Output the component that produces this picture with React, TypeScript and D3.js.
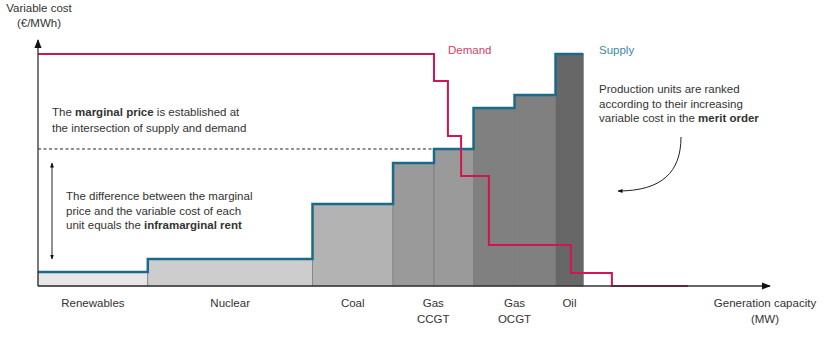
import React from "react";
import * as d3 from "d3";

// ---- Data ----
const categories = ["Renewables", "Nuclear", "Coal", "Gas CCGT", "Gas CCGT", "Gas OCGT", "Gas OCGT", "Oil"];
const capacities = [15, 22.5, 11, 5.6, 5.4, 5.6, 5.6, 3.8]; // MW units (relative)
const costs = [5.7, 11, 33.3, 50, 55.7, 72.4, 77.6, 94.3]; // €/MWh (relative)
const categoryFill = ["#e6e6e6", "#cdcdcd", "#b3b3b3", "#9a9a9a", "#9a9a9a", "#808080", "#808080", "#676767"];

const demandBreaksX = [0, 54.1, 56, 57.8, 61.6, 72.8, 78.4, 88.8];
const demandLevels = [94.3, 83.3, 61, 44.7, 16.7, 5.3, 0];
const marginalPrice = 55.7;

const catLabels = [
  { lines: ["Renewables"], from: 0, to: 1 },
  { lines: ["Nuclear"], from: 1, to: 2 },
  { lines: ["Coal"], from: 2, to: 3 },
  { lines: ["Gas", "CCGT"], from: 3, to: 5 },
  { lines: ["Gas", "OCGT"], from: 5, to: 7 },
  { lines: ["Oil"], from: 7, to: 8 },
];

const W = 830;
const H = 347;
const X0 = 38;
const XEND = 770;
const Y0 = 286;
const YTOP = 40;

const SUPPLY = "#1b6a8a";
const DEMAND = "#d11550";
const TXT = "#333";
const FONT = "'Liberation Sans', Arial, sans-serif";

export default function App() {
  const x = d3.scaleLinear().domain([0, 100]).range([X0, XEND]);
  const y = d3.scaleLinear().domain([0, 100]).range([Y0, YTOP]);

  const cum: number[] = [0];
  capacities.forEach((c, i) => cum.push(cum[i] + c));

  // supply step line
  const supplyPts: [number, number][] = [];
  costs.forEach((c, i) => {
    supplyPts.push([cum[i], c]);
    supplyPts.push([cum[i + 1], c]);
  });
  const line = d3.line<[number, number]>().x((d) => x(d[0])).y((d) => y(d[1]));

  const demandPts: [number, number][] = [];
  demandLevels.forEach((lv, i) => {
    demandPts.push([demandBreaksX[i], lv]);
    demandPts.push([demandBreaksX[i + 1], lv]);
  });

  const fs = 11.5;

  return (
    <svg width={W} height={H} style={{ position: "absolute", left: 0, top: 0, background: "#fff" }} fontFamily={FONT}>
      <defs>
        <marker id="ah" viewBox="0 0 10 10" refX="9" refY="5" markerWidth="7" markerHeight="7" orient="auto-start-reverse">
          <path d="M0,1 L10,5 L0,9 z" fill="#111" />
        </marker>
        <marker id="ahs" viewBox="0 0 10 10" refX="9" refY="5" markerWidth="5" markerHeight="6" orient="auto-start-reverse">
          <path d="M0,1 L10,5 L0,9 z" fill="#111" />
        </marker>
      </defs>

      {/* bars */}
      {capacities.map((c, i) => (
        <rect
          key={i}
          x={x(cum[i])}
          y={y(costs[i])}
          width={x(cum[i + 1]) - x(cum[i])}
          height={Y0 - y(costs[i])}
          fill={categoryFill[i]}
          stroke="#7a7a7a"
          strokeWidth={0.7}
        />
      ))}

      {/* dashed marginal price */}
      <line x1={X0} x2={x(cum[4])} y1={y(marginalPrice)} y2={y(marginalPrice)} stroke="#222" strokeDasharray="3,2.5" strokeWidth={1} />

      {/* supply */}
      <path d={line(supplyPts) || ""} fill="none" stroke={SUPPLY} strokeWidth={2.5} />
      {/* demand */}
      <path d={line(demandPts) || ""} fill="none" stroke={DEMAND} strokeWidth={2} />

      {/* axes */}
      <line x1={X0} x2={XEND} y1={Y0} y2={Y0} stroke="#333" strokeWidth={1.3} markerEnd="url(#ah)" />
      <line x1={X0} x2={X0} y1={Y0} y2={YTOP} stroke="#333" strokeWidth={1.3} markerEnd="url(#ah)" />

      {/* double arrow */}
      <line x1={52} x2={52} y1={163} y2={259} stroke="#222" strokeWidth={1} markerStart="url(#ahs)" markerEnd="url(#ahs)" />

      {/* curved arrow */}
      <path d="M681,137 C681,172 662,191 618,191" fill="none" stroke="#222" strokeWidth={1} markerEnd="url(#ahs)" />

      {/* axis titles */}
      <text x={39} y={12} fontSize={fs} fill={TXT} textAnchor="middle">Variable cost</text>
      <text x={39} y={27} fontSize={fs} fill={TXT} textAnchor="middle">(€/MWh)</text>
      <text x={765} y={307} fontSize={fs} fill={TXT} textAnchor="middle">Generation capacity</text>
      <text x={765} y={323} fontSize={fs} fill={TXT} textAnchor="middle">(MW)</text>

      {/* category labels */}
      {catLabels.map((c, i) => {
        const cx = (x(cum[c.from]) + x(cum[c.to])) / 2;
        return (
          <text key={i} x={cx} fontSize={fs} fill={TXT} textAnchor="middle">
            {c.lines.map((l, j) => (
              <tspan key={j} x={cx} y={307 + j * 16}>{l}</tspan>
            ))}
          </text>
        );
      })}

      {/* series labels */}
      <text x={448} y={54} fontSize={fs} fill="#d6406a">Demand</text>
      <text x={599} y={54} fontSize={fs} fill="#3a8aa8">Supply</text>

      {/* annotations */}
      <text x={52} fontSize={fs} fill={TXT}>
        <tspan x={52} y={116}>The <tspan fontWeight="bold">marginal price</tspan> is established at</tspan>
        <tspan x={52} y={132}>the intersection of supply and demand</tspan>
      </text>
      <text x={66} fontSize={fs} fill={TXT}>
        <tspan x={66} y={200}>The difference between the marginal</tspan>
        <tspan x={66} y={214.5}>price and the variable cost of each</tspan>
        <tspan x={66} y={229}>unit equals the <tspan fontWeight="bold">inframarginal rent</tspan></tspan>
      </text>
      <text x={599} fontSize={fs} fill={TXT}>
        <tspan x={599} y={93}>Production units are ranked</tspan>
        <tspan x={599} y={107.5}>according to their increasing</tspan>
        <tspan x={599} y={122}>variable cost in the <tspan fontWeight="bold">merit order</tspan></tspan>
      </text>
    </svg>
  );
}
